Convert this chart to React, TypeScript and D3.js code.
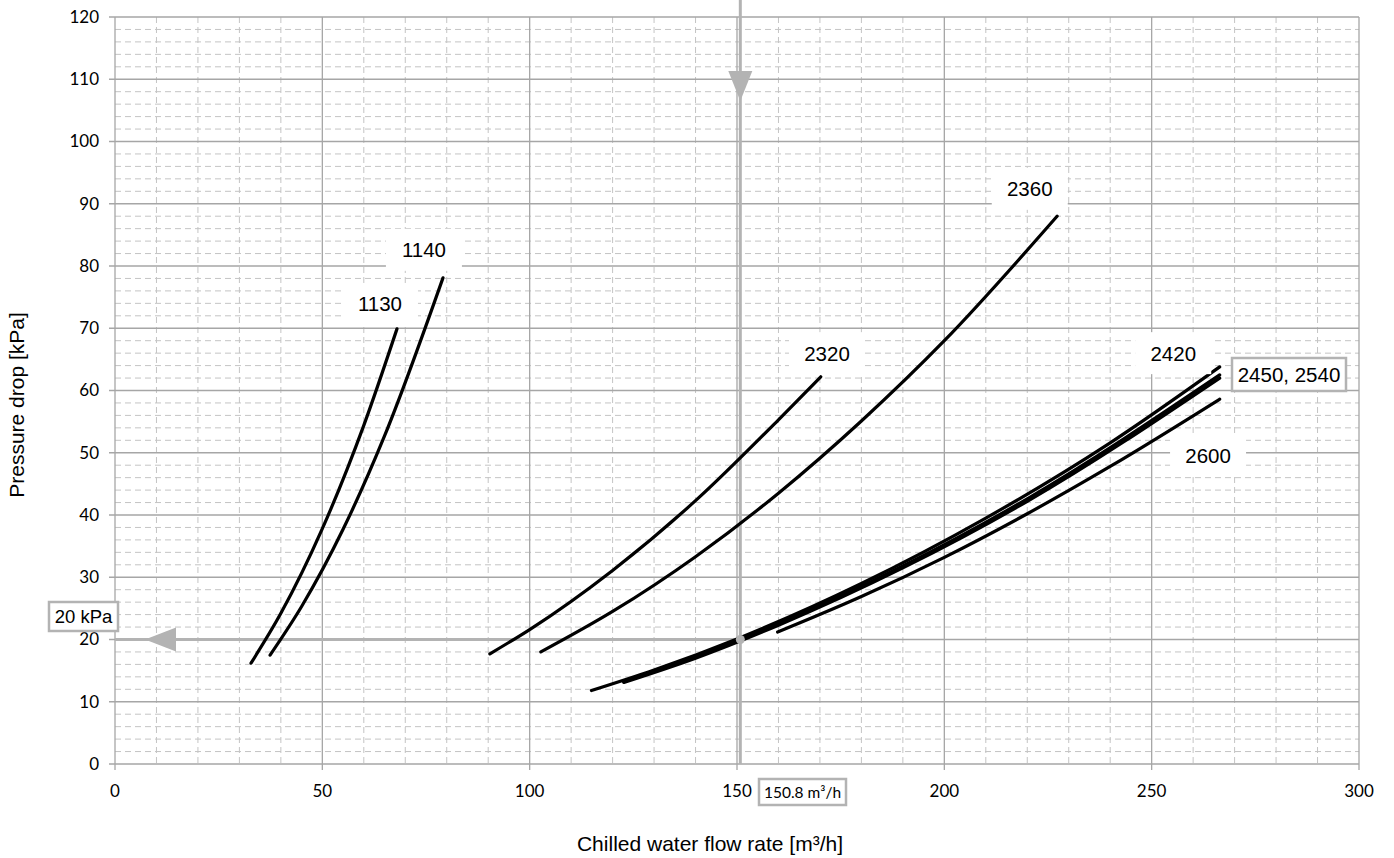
import * as d3 from 'd3'

const W = 1394
const H = 858

const xTicks = [0, 50, 100, 150, 200, 250, 300]
const yTicks = [0, 10, 20, 30, 40, 50, 60, 70, 80, 90, 100, 110, 120]

// flow [m³/h] vs pressure drop [kPa]
const q1130 = [32.8, 40, 50, 60, 68]
const p1130 = [16.2, 24.2, 37.8, 54.4, 69.9]
const q1140 = [37.4, 45, 55, 65, 79.1]
const p1140 = [17.5, 25.3, 37.7, 52.7, 78.1]
const q2320 = [90.4, 100, 120, 140, 160, 170.2]
const p2320 = [17.7, 21.6, 31.1, 42.3, 55.3, 62.2]
const q2360 = [102.7, 120, 140, 160, 180, 200, 227.2]
const p2360 = [18.0, 24.5, 33.3, 43.5, 55.1, 68.0, 88.0]
const q2420 = [114.9, 130, 150, 180, 210, 240, 266.4]
const p2420 = [11.8, 15.1, 20.1, 29.0, 39.5, 51.6, 63.8]
const q2450 = [122.7, 140, 160, 190, 220, 266.4]
const p2450 = [13.2, 17.2, 22.5, 31.8, 42.6, 62.5]
const q2540 = [122.7, 140, 160, 190, 220, 266.4]
const p2540 = [13.1, 17.0, 22.3, 31.5, 42.2, 62.0]
const q2600 = [159.8, 180, 200, 220, 240, 266.4]
const p2600 = [21.2, 26.9, 33.2, 40.2, 47.8, 58.6]

const series = [
  { name: '1130', q: q1130, p: p1130 },
  { name: '1140', q: q1140, p: p1140 },
  { name: '2320', q: q2320, p: p2320 },
  { name: '2360', q: q2360, p: p2360 },
  { name: '2420', q: q2420, p: p2420 },
  { name: '2450', q: q2450, p: p2450 },
  { name: '2540', q: q2540, p: p2540 },
  { name: '2600', q: q2600, p: p2600 },
]

// curve labels: text and anchor in data units
const labelText = ['1130', '1140', '2320', '2360', '2420', '2600']
const labelQ = [63.9, 74.5, 171.7, 220.6, 255.2, 263.6]
const labelP = [73.9, 82.6, 66.0, 92.4, 66.0, 49.6]

const opFlow = 150.8
const opDrop = 20

export default function App() {
  const x = d3.scaleLinear().domain([0, 300]).range([115, 1359])
  const y = d3.scaleLinear().domain([0, 120]).range([764, 17])

  const xMinor = d3.range(10, 300, 10).filter(v => v % 50 !== 0)
  const yMinor = d3.range(2, 120, 2).filter(v => v % 10 !== 0)

  const line = d3.line<[number, number]>()
    .x(d => x(d[0]))
    .y(d => y(d[1]))
    .curve(d3.curveMonotoneX)

  const gridMajor = '#a6a6a6'
  const gridMinor = '#c4c4c4'
  const marker = '#b3b3b3'
  const ox = x(opFlow)
  const oy = y(opDrop)
  const arial = "'Liberation Sans', Arial, sans-serif"
  const calib = "Lato, 'Open Sans', sans-serif"

  return (
    <svg width={W} height={H} style={{ position: 'absolute', left: 0, top: 0, background: '#fff' }}>
      <rect width={W} height={H} fill="#fff" />
      <g>
        {xMinor.map(v => (
          <line key={'xm' + v} x1={x(v)} x2={x(v)} y1={y(120)} y2={y(0)}
            stroke={gridMinor} strokeWidth={1} strokeDasharray="6 4" />
        ))}
        {yMinor.map(v => (
          <line key={'ym' + v} x1={x(0)} x2={x(300)} y1={y(v)} y2={y(v)}
            stroke={gridMinor} strokeWidth={1} strokeDasharray="6 4" />
        ))}
        {xTicks.map(v => (
          <line key={'xM' + v} x1={x(v)} x2={x(v)} y1={y(120)} y2={y(0) + 6}
            stroke={gridMajor} strokeWidth={1.3} />
        ))}
        {yTicks.map(v => (
          <line key={'yM' + v} x1={x(0) - 6} x2={x(300)} y1={y(v)} y2={y(v)}
            stroke={gridMajor} strokeWidth={1.3} />
        ))}
      </g>

      <g fontFamily={calib} fontSize={17} fill="#000">
        {yTicks.map(v => (
          <text key={'yl' + v} x={x(0) - 16} y={y(v)} dy="0.35em" textAnchor="end">{v}</text>
        ))}
        {xTicks.map(v => (
          <text key={'xl' + v} x={x(v)} y={797} textAnchor="middle">{v}</text>
        ))}
      </g>

      {/* operating point markers */}
      <g stroke={marker} strokeWidth={3} fill="none">
        <line x1={ox} x2={ox} y1={0} y2={y(0)} />
        <line x1={x(0)} x2={ox} y1={oy} y2={oy} />
      </g>
      <path d={`M${ox - 12},71 L${ox + 12},71 L${ox},101 Z`} fill={marker} />
      <path d={`M145,${oy} L176,${oy - 12} L176,${oy + 12} Z`} fill={marker} />

      <g fill="none" stroke="#000" strokeWidth={3.2} strokeLinecap="round">
        {series.map(s => (
          <path key={s.name} d={line(s.q.map((q, i) => [q, s.p[i]] as [number, number])) ?? ''} />
        ))}
      </g>
      <circle cx={ox} cy={oy} r={4.5} fill={marker} />

      <g fontFamily={arial} fontSize={20.5}>
        {labelText.map((t, i) => (
          <g key={t} transform={`translate(${x(labelQ[i])},${y(labelP[i])})`}>
            <rect x={-38} y={-21} width={76} height={42} fill="#fff" />
            <text textAnchor="middle" dy="0.36em">{t}</text>
          </g>
        ))}
        <rect x={1232} y={358} width={114} height={33} fill="#fff" stroke={marker} strokeWidth={2.5} />
        <text x={1289} y={374.5} dy="0.36em" textAnchor="middle">2450, 2540</text>
      </g>

      <rect x={49} y={602} width={69} height={29} fill="#fff" stroke={marker} strokeWidth={2.5} />
      <text x={83.5} y={616.5} dy="0.36em" textAnchor="middle" fontFamily={arial} fontSize={18.5}>20 kPa</text>

      <rect x={759} y={779} width={87} height={26} fill="#fff" stroke={marker} strokeWidth={2.5} />
      <text x={802.5} y={792} dy="0.36em" textAnchor="middle" fontFamily={calib} fontSize={15.5}>150.8 m³/h</text>

      <g fontFamily={arial} fontSize={21}>
        <text x={710} y={851} textAnchor="middle">Chilled water flow rate [m³/h]</text>
        <text transform="translate(24,405) rotate(-90)" textAnchor="middle">Pressure drop [kPa]</text>
      </g>
    </svg>
  )
}
